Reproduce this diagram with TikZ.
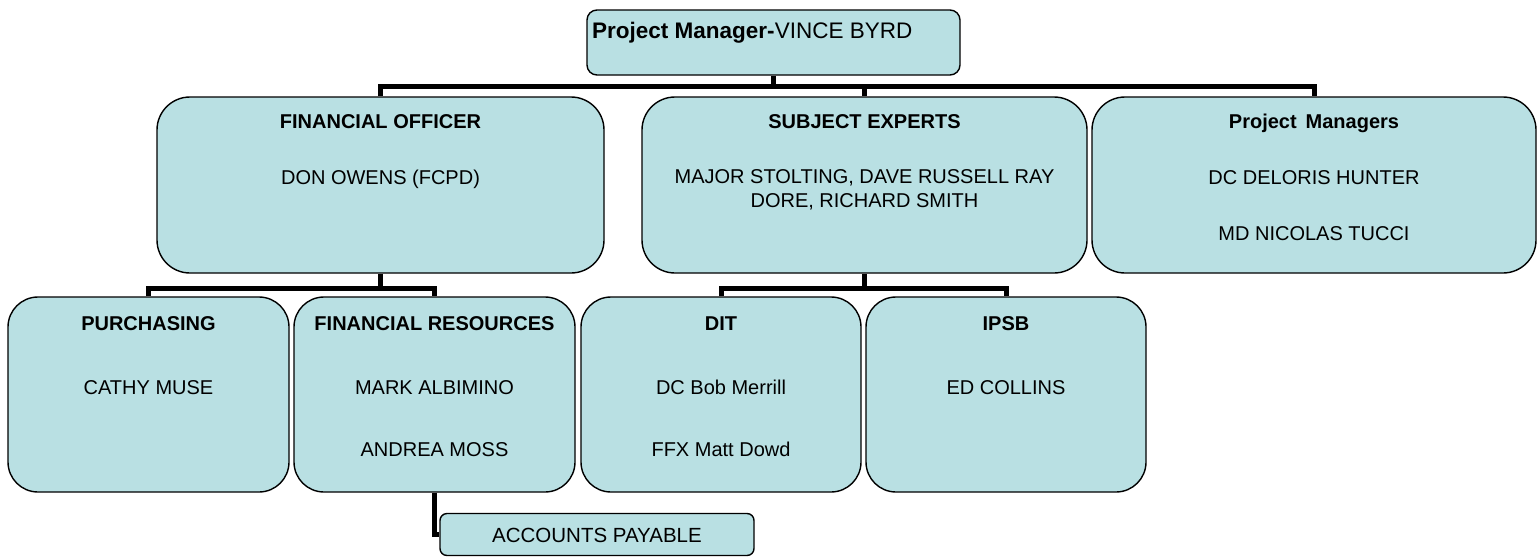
\documentclass[tikz,border=0pt]{standalone}
\usepackage{fontspec}
\setmainfont{Liberation Sans}
\definecolor{boxfill}{HTML}{B9E0E3}
\tikzset{
  box/.style={draw=black, line width=1.4pt, fill=boxfill, rounded corners=33pt, inner sep=0pt},
  conn/.style={draw=black, line width=5pt, line join=miter},
  txt/.style={font=\fontsize{20}{24}\selectfont, align=center, inner sep=0pt, anchor=base},
}
\begin{document}
\begin{tikzpicture}[x=1pt, y=-1pt]
\useasboundingbox (0,0) rectangle (1538,557);
% boxes
\node[box, rounded corners=10pt, minimum width=373pt, minimum height=65pt] (top) at (773.5,42.5) {};
\node[box, minimum width=447pt, minimum height=176pt] (fo) at (380.5,185) {};
\node[box, minimum width=445pt, minimum height=176pt] (se) at (864.5,185) {};
\node[box, minimum width=444pt, minimum height=176pt] (pm) at (1314,185) {};
\node[box, rounded corners=30pt, minimum width=281pt, minimum height=195pt] (pur) at (148.5,394.5) {};
\node[box, rounded corners=30pt, minimum width=281pt, minimum height=195pt] (fr) at (434.5,394.5) {};
\node[box, rounded corners=30pt, minimum width=280pt, minimum height=195pt] (dit) at (721,394.5) {};
\node[box, rounded corners=30pt, minimum width=280pt, minimum height=195pt] (ipsb) at (1006,394.5) {};
\node[box, rounded corners=7pt, minimum width=314pt, minimum height=42pt] (ap) at (597,534.5) {};
% junctions
\coordinate (j1) at (773.5,86);
\coordinate (j2) at (0,288);
% connectors
\draw[conn] (top.south) -- (top.south |- j1);
\draw[conn] (fo.north) -- (fo.north |- j1) -| (pm.north);
\draw[conn] (se.north) -- (se.north |- j1);
\draw[conn] (fo.south) -- (fo.south |- j2);
\draw[conn] (pur.north) -- (pur.north |- j2) -| (fr.north);
\draw[conn] (se.south) -- (se.south |- j2);
\draw[conn] (dit.north) -- (dit.north |- j2) -| (ipsb.north);
\draw[conn] (fr.south) |- (ap.west);
% texts (anchor base = baseline of last line)
\node[txt, font=\fontsize{22.5}{27}\selectfont, anchor=base west] (top-t) at (592,38) {\textbf{Project Manager-}VINCE BYRD};
\node[txt] (fo-t) at (380.5,184) {\textbf{FINANCIAL OFFICER}\\[32pt]DON OWENS (FCPD)};
\node[txt] (se-t) at (864.5,207) {\textbf{SUBJECT EXPERTS}\\[31pt]MAJOR STOLTING, DAVE RUSSELL RAY\\DORE, RICHARD SMITH};
\node[txt] (pm-t) at (1314,240) {\textbf{Project\hspace{0.45em}Managers}\\[32pt]DC DELORIS HUNTER\\[32pt]MD NICOLAS TUCCI};
\node[txt] (pur-t) at (148.5,394) {\textbf{PURCHASING}\\[40pt]CATHY MUSE};
\node[txt] (fr-t) at (434.5,456) {\textbf{FINANCIAL RESOURCES}\\[40pt]MARK ALBIMINO\\[38pt]ANDREA MOSS};
\node[txt] (dit-t) at (721,456) {\textbf{DIT}\\[40pt]DC Bob Merrill\\[38pt]FFX Matt Dowd};
\node[txt] (ipsb-t) at (1006,394) {\textbf{IPSB}\\[40pt]ED COLLINS};
\node[txt, font=\fontsize{20.5}{24}\selectfont] (ap-t) at (597,542) {ACCOUNTS PAYABLE};
\end{tikzpicture}
\end{document}
